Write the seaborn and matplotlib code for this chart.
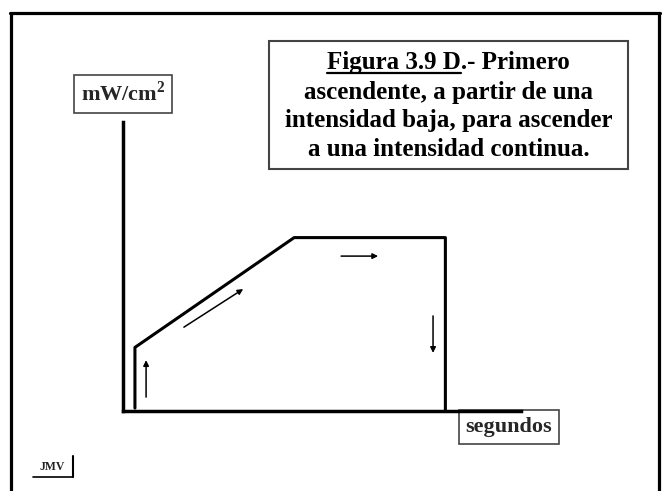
import matplotlib
matplotlib.use("Agg")
import matplotlib.pyplot as plt
import seaborn as sns
import pandas as pd
from matplotlib.patches import Rectangle
from matplotlib.lines import Line2D

# ---- data ----
tiempo = [3, 3, 43, 81, 81]
intensidad = [1, 22, 60, 60, 0]
flecha_inicio_x = [5.8, 15.3, 54.8, 77.9]
flecha_inicio_y = [4.8, 29.0, 53.6, 32.9]
flecha_fin_x = [5.8, 30.2, 64.1, 77.9]
flecha_fin_y = [17.6, 42.2, 53.6, 20.1]
titulo_subrayado = "Figura 3.9 D"
titulo_lineas = ["Figura 3.9 D.- Primero",
                 "ascendente, a partir de una",
                 "intensidad baja, para ascender",
                 "a una intensidad continua."]
etiqueta_y = r"mW/cm$^{\mathbf{2}}$"
etiqueta_x = "segundos"
firma = "JMV"

sns.set_style("white")
plt.rcParams['font.family'] = ['Liberation Serif', 'DejaVu Serif']
plt.rcParams['mathtext.fontset'] = 'custom'
plt.rcParams['mathtext.bf'] = 'Liberation Serif:bold'
plt.rcParams['mathtext.rm'] = 'Liberation Serif:bold'

W, H = 667, 491
fig = plt.figure(figsize=(W / 100, H / 100), dpi=100)

def fx(x):
    return x / W

def fy(y):
    return 1 - y / H

# main axes: origin at px (123, 411), top 122, right 521
ax = fig.add_axes([fx(123), fy(411), (521 - 123) / W, (411 - 122) / H])
ax.set_zorder(5)
df = pd.DataFrame({"t": tiempo, "i": intensidad})
sns.lineplot(data=df, x="t", y="i", sort=False, estimator=None,
             color="black", linewidth=2.2, ax=ax)
ax.set_xlim(0, 100)
ax.set_ylim(0, 100)
ax.set_xticks([])
ax.set_yticks([])
ax.set_xlabel("")
ax.set_ylabel("")
for s in ["top", "right"]:
    ax.spines[s].set_visible(False)
for s in ["left", "bottom"]:
    ax.spines[s].set_color("black")
    ax.spines[s].set_linewidth(2.5)
ax.patch.set_alpha(0)

for x0, y0, x1, y1 in zip(flecha_inicio_x, flecha_inicio_y, flecha_fin_x, flecha_fin_y):
    ax.annotate("", xy=(x1, y1), xytext=(x0, y0),
                arrowprops=dict(arrowstyle="-|>", color="black", lw=1.1,
                                mutation_scale=8, shrinkA=0, shrinkB=0))

# outer frame
fig.add_artist(Line2D([fx(11), fx(11)], [fy(13), fy(495)], color="black", lw=2.3))
fig.add_artist(Line2D([fx(10), fx(660)], [fy(13), fy(13)], color="black", lw=2.3))
fig.add_artist(Line2D([fx(659), fx(659)], [fy(13), fy(495)], color="black", lw=2.3))

# title box
fig.add_artist(Rectangle((fx(269), fy(169)), (628 - 269) / W, (169 - 41) / H,
                         transform=fig.transFigure, fill=False,
                         edgecolor="#444444", lw=1.5))
cx = fx(448.5)
ys = [62, 92, 121, 150]
texts = []
for line, yy in zip(titulo_lineas, ys):
    t = fig.text(cx, fy(yy), line, ha="center", va="center",
                 fontsize=18, fontweight="bold", color="black")
    texts.append(t)

# underline
fig.canvas.draw()
r = fig.canvas.get_renderer()
bb_full = texts[0].get_window_extent(renderer=r)
tmp = fig.text(0, 0, titulo_subrayado, fontsize=18, fontweight="bold")
bb_sub = tmp.get_window_extent(renderer=r)
tmp.remove()
x_start = bb_full.x0 / fig.dpi / fig.get_figwidth()
x_end = (bb_full.x0 + bb_sub.width) / fig.dpi / fig.get_figwidth()
fig.add_artist(Line2D([x_start, x_end], [fy(72.5), fy(72.5)], color="black", lw=1.6))

# y label box
fig.text(fx(123), fy(94), etiqueta_y, ha="center", va="center",
         fontsize=16, fontweight="bold",
         bbox=dict(boxstyle="square,pad=0.3", fc="white", ec="#444444", lw=1.2))
# x label box (axis line drawn over its top edge)
fig.text(fx(509), fy(427), etiqueta_x, ha="center", va="center",
         fontsize=16, fontweight="bold",
         bbox=dict(boxstyle="square,pad=0.3", fc="none", ec="#444444", lw=1.2))

# signature
fig.text(fx(52), fy(467), firma, ha="center", va="center",
         fontsize=8.5, fontweight="bold", color="#222222")
fig.add_artist(Line2D([fx(33), fx(73)], [fy(477), fy(477)], color="black", lw=1.2))
fig.add_artist(Line2D([fx(73), fx(73)], [fy(456), fy(477)], color="black", lw=1.5))

fig.savefig("out.png", dpi=100)
